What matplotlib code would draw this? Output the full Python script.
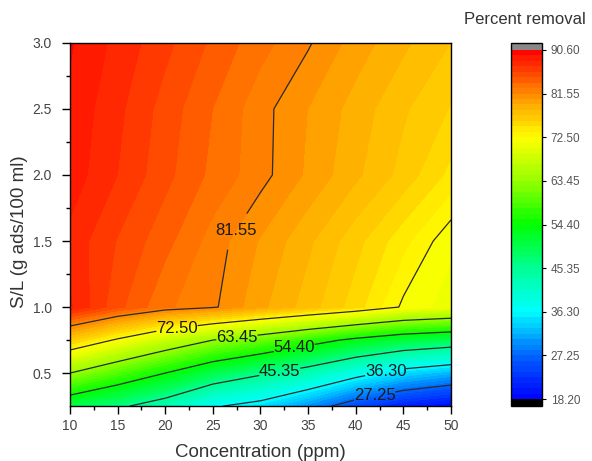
import numpy as np
import matplotlib
matplotlib.use('Agg')
import matplotlib.pyplot as plt
from matplotlib.colors import LinearSegmentedColormap

plt.rcParams['font.family'] = ['Liberation Sans', 'DejaVu Sans']

# grid
conc = [10, 15, 20, 25, 30, 35, 40, 45, 50]
sl = [0.25, 0.5, 0.75, 1.0, 1.5, 2.0, 2.5, 3.0]
removal = [
    [49.9, 46.3, 42.5, 36.8, 34.4, 29.8, 24.6, 20.9, 19.0],
    [63.45, 58.9, 54.4, 49.6, 46.1, 42.7, 38.1, 34.2, 31.9],
    [76.4, 72.0, 67.6, 63.45, 60.4, 56.7, 53.2, 50.5, 49.0],
    [88.5, 85.3, 82.9, 81.8, 79.6, 77.6, 75.3, 72.2, 70.8],
    [88.0, 86.0, 84.2, 82.2, 80.3, 78.4, 76.3, 74.0, 71.6],
    [89.0, 87.2, 85.3, 83.5, 82.0, 80.2, 78.4, 76.6, 74.4],
    [89.2, 87.5, 85.6, 83.8, 82.0, 80.4, 78.8, 77.2, 75.8],
    [89.6, 88.0, 86.4, 84.7, 83.1, 81.7, 79.9, 78.4, 77.0],
]
major_levels = [18.20, 27.25, 36.30, 45.35, 54.40, 63.45, 72.50, 81.55, 90.60]
line_levels = major_levels[1:-1]
label_pos = [(27.3, 1.58), (21.2, 0.86), (27.5, 0.79), (33.5, 0.71),
             (32.0, 0.52), (43.1, 0.52), (42.0, 0.32)]

# origin-like rainbow palette, one colour per major level
stop_cols = ['#0000ff', '#0064ff', '#00ffff', '#00ff96', '#00ff00',
             '#96ff00', '#ffff00', '#ff8c00', '#ff0000']
cmap = LinearSegmentedColormap.from_list(
    'rainbow_origin', list(zip(np.linspace(0, 1, len(stop_cols)), stop_cols)))
cmap.set_under('black')
cmap.set_over('#888888')

X, Y = np.meshgrid(conc, sl)
Z = np.array(removal)

fig = plt.figure(figsize=(5.92, 4.61), dpi=100)
ax = fig.add_axes([0.118, 0.119, 0.644, 0.788])

levels = np.linspace(18.2, 90.6, 65)
cf = ax.contourf(X, Y, Z, levels=levels, cmap=cmap, extend='both')
cs = ax.contour(X, Y, Z, levels=line_levels, colors='#2a2a2a', linewidths=0.9)
labels = ax.clabel(cs, fmt='%.2f', fontsize=12, manual=label_pos, inline_spacing=0)
for t in labels:
    t.set_rotation(0)
    t.set_color('#1a1a1a')

ax.set_xlim(10, 50)
ax.set_ylim(0.25, 3.0)
ax.set_xticks(np.arange(10, 51, 5))
ax.set_xticks(np.arange(12.5, 50, 5), minor=True)
ax.set_yticks([0.5, 1.0, 1.5, 2.0, 2.5, 3.0])
ax.set_yticks([0.75, 1.25, 1.75, 2.25, 2.75], minor=True)
ax.yaxis.set_major_formatter('{x:.1f}')
ax.tick_params(which='major', length=6, width=1, labelsize=10, labelcolor='#444444')
ax.tick_params(which='minor', length=3, width=1)
ax.tick_params(axis='y', which='major', pad=7)
for s in ax.spines.values():
    s.set_linewidth(1.0)
ax.set_xlabel('Concentration (ppm)', fontsize=13.5, color='#333333', labelpad=8)
ax.set_ylabel('S/L (g ads/100 ml)', fontsize=13.5, color='#333333')
ax.yaxis.set_label_coords(-0.11, 0.48)

cax = fig.add_axes([0.864, 0.119, 0.051, 0.788])
cb = fig.colorbar(cf, cax=cax, ticks=major_levels, extendrect=True, extendfrac=0.02)
cb.ax.yaxis.set_major_formatter('{x:.2f}')
cb.ax.tick_params(labelsize=8.5, labelcolor='#555555', length=3, width=0.8)
cb.ax.minorticks_off()
cb.outline.set_linewidth(1.0)
fig.text(0.887, 0.957, 'Percent removal', ha='center', va='center', fontsize=12, color='#333333')

fig.savefig('out.png', dpi=100)
